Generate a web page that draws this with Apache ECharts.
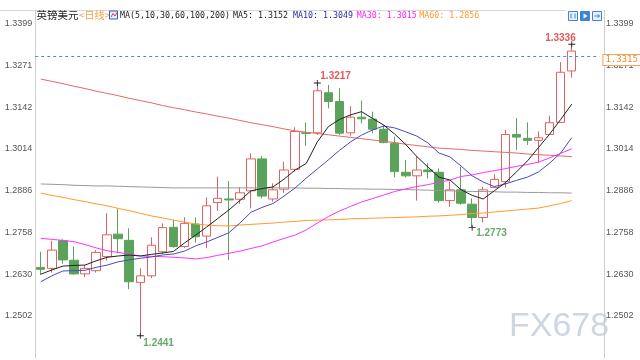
<!DOCTYPE html>
<html><head><meta charset="utf-8">
<script src="https://cdn.jsdelivr.net/npm/echarts@6/dist/echarts.min.js"></script>
<style>html,body{margin:0;padding:0;background:#fff}#c{width:640px;height:360px}</style>
</head><body><div id="c"></div>
<script>
const categories = ['1','2','3','4','5','6','7','8','9','10','11','12','13','14','15','16','17','18','19','20','21','22','23','24','25','26','27','28','29','30','31','32','33','34','35','36','37','38','39','40','41','42','43','44','45','46','47','48','49'];
const padCategories = ['', ''];
const opens = [1.2651,1.2648,1.2733,1.2673,1.2631,1.2641,1.2684,1.2753,1.2734,1.2605,1.2625,1.2699,1.2774,1.2715,1.2784,1.2747,1.2850,1.2861,1.2860,1.2886,1.2984,1.2861,1.2891,1.2952,1.3064,1.3064,1.3187,1.3160,1.3064,1.3112,1.3106,1.3075,1.3032,1.2943,1.2932,1.2950,1.2943,1.2856,1.2889,1.2845,1.2804,1.2896,1.2914,1.3059,1.3047,1.3041,1.3059,1.3096,1.3254];
const closes = [1.2645,1.2704,1.2674,1.2631,1.2648,1.2697,1.2751,1.2739,1.2607,1.2625,1.2719,1.2773,1.2715,1.2786,1.2745,1.2840,1.2863,1.2858,1.2880,1.2984,1.2870,1.2889,1.2950,1.3068,1.3062,1.3193,1.3160,1.3063,1.3112,1.3107,1.3075,1.3034,1.2945,1.2932,1.2950,1.2945,1.2856,1.2889,1.2848,1.2804,1.2889,1.2921,1.3059,1.3051,1.3041,1.3049,1.3095,1.3250,1.3315];
const lows = [1.2628,1.2635,1.2662,1.2629,1.2621,1.2635,1.2672,1.2694,1.2584,1.2441,1.2618,1.2692,1.2711,1.2711,1.2727,1.2710,1.2825,1.2674,1.2846,1.2832,1.2863,1.2853,1.2880,1.2945,1.3024,1.3057,1.3139,1.3057,1.3055,1.3093,1.3063,1.3032,1.2927,1.2927,1.2856,1.2924,1.2850,1.2837,1.2843,1.2773,1.2789,1.2894,1.2896,1.3011,1.3027,1.2971,1.3057,1.3094,1.3233];
const highs = [1.2699,1.2733,1.2737,1.2715,1.2658,1.2704,1.2817,1.2830,1.2771,1.2648,1.2743,1.2786,1.2797,1.2805,1.2804,1.2866,1.2929,1.2916,1.2897,1.3001,1.2993,1.2909,1.2975,1.3081,1.3096,1.3217,1.3211,1.3201,1.3146,1.3163,1.3129,1.3088,1.3052,1.2981,1.2993,1.2971,1.2955,1.2914,1.2960,1.2863,1.2899,1.2937,1.3073,1.3109,1.3096,1.3068,1.3117,1.3281,1.3336];
const ma5 = [1.2630,1.2643,1.2655,1.2657,1.2658,1.2671,1.2682,1.2686,1.2689,1.2686,1.2691,1.2695,1.2700,1.2726,1.2750,1.2775,1.2801,1.2827,1.2856,1.2886,1.2893,1.2898,1.2922,1.2950,1.2970,1.3036,1.3083,1.3105,1.3119,1.3129,1.3108,1.3088,1.3060,1.3028,1.2991,1.2959,1.2928,1.2919,1.2889,1.2872,1.2861,1.2886,1.2911,1.2944,1.2978,1.3019,1.3060,1.3105,1.3152];
const ma10 = [1.2607,1.2625,1.2640,1.2641,1.2642,1.2651,1.2658,1.2668,1.2674,1.2679,1.2683,1.2689,1.2692,1.2701,1.2717,1.2729,1.2743,1.2757,1.2787,1.2820,1.2835,1.2847,1.2870,1.2895,1.2925,1.2953,1.2981,1.3010,1.3036,1.3057,1.3073,1.3085,1.3079,1.3067,1.3054,1.3033,1.3002,1.2990,1.2962,1.2932,1.2913,1.2899,1.2907,1.2918,1.2928,1.2944,1.2971,1.3002,1.3049];
const ma30 = [1.2740,1.2737,1.2734,1.2730,1.2721,1.2711,1.2702,1.2697,1.2691,1.2686,1.2685,1.2684,1.2682,1.2680,1.2677,1.2681,1.2688,1.2694,1.2701,1.2709,1.2717,1.2729,1.2740,1.2750,1.2766,1.2787,1.2807,1.2824,1.2838,1.2852,1.2862,1.2873,1.2884,1.2892,1.2899,1.2905,1.2912,1.2919,1.2930,1.2935,1.2942,1.2948,1.2954,1.2961,1.2967,1.2974,1.2987,1.3001,1.3015];
const ma60 = [1.2879,1.2872,1.2866,1.2859,1.2853,1.2846,1.2840,1.2832,1.2825,1.2817,1.2809,1.2803,1.2796,1.2790,1.2784,1.2781,1.2779,1.2778,1.2781,1.2783,1.2785,1.2787,1.2790,1.2792,1.2795,1.2796,1.2797,1.2798,1.2800,1.2801,1.2802,1.2803,1.2804,1.2805,1.2806,1.2808,1.2809,1.2811,1.2813,1.2816,1.2818,1.2821,1.2824,1.2827,1.2830,1.2833,1.2840,1.2847,1.2856];
const ma100 = [1.2907,1.2906,1.2905,1.2903,1.2902,1.2901,1.2901,1.2900,1.2899,1.2898,1.2897,1.2896,1.2895,1.2895,1.2895,1.2895,1.2895,1.2895,1.2895,1.2895,1.2895,1.2895,1.2895,1.2895,1.2894,1.2894,1.2893,1.2893,1.2892,1.2892,1.2891,1.2891,1.2890,1.2890,1.2889,1.2888,1.2887,1.2886,1.2885,1.2884,1.2884,1.2883,1.2882,1.2882,1.2881,1.2881,1.2880,1.2880,1.2879];
const ma200 = [1.3229,1.3222,1.3215,1.3207,1.3200,1.3192,1.3185,1.3178,1.3170,1.3163,1.3156,1.3148,1.3141,1.3135,1.3128,1.3122,1.3115,1.3109,1.3102,1.3095,1.3089,1.3083,1.3076,1.3070,1.3066,1.3062,1.3058,1.3054,1.3050,1.3046,1.3042,1.3038,1.3034,1.3029,1.3025,1.3021,1.3017,1.3015,1.3013,1.3010,1.3008,1.3006,1.3004,1.3002,1.2999,1.2997,1.2995,1.2993,1.2991];
const tickLabels = ['1.2502','1.2630','1.2758','1.2886','1.3014','1.3142','1.3271','1.3399'];
const axisMin = 1.237379, axisMax = 1.3441, axisStep = 0.012811;
const legendTexts = ['英镑美元', '<日线>', 'MA(5,10,30,60,100,200)', 'MA5: 1.3152', 'MA10: 1.3049', 'MA30: 1.3015', 'MA60: 1.2856'];
const markHigh1 = 25, markHigh2 = 48, markLow1 = 9, markLow2 = 39;

const candleData = opens.map((o, i) => [o, closes[i], lows[i], highs[i]]);
const lastClose = closes[closes.length - 1];

function fmtTick(v) {
  for (const t of tickLabels) { if (Math.abs(parseFloat(t) - v) < axisStep / 3) return t; }
  return '';
}
const yCommon = {
  type: 'value', min: axisMin, max: axisMax, interval: axisStep,
  splitLine: { show: false }, axisTick: { show: false },
  axisLine: { show: true, lineStyle: { color: '#c8c8c8', type: 'dotted', width: 1 } }
};
const mono = '"DejaVu Sans Mono", "Liberation Mono", monospace';
const plusPath = 'path://M0,3H8V4H0Z M3.5,0H4.5V7H3.5Z';
function mp(idx, val, color, align, off) {
  return { coord: [idx, val], value: val.toFixed(4), symbol: plusPath, symbolSize: [7, 6],
    itemStyle: { color: '#222' },
    label: { show: true, position: 'inside', align: align, verticalAlign: 'middle', offset: off,
      color: color, fontSize: 10, fontWeight: 'bold', fontFamily: 'Liberation Sans, Arial, sans-serif', formatter: val.toFixed(4) } };
}
function maLine(name, data, color) {
  return { name, type: 'line', data, showSymbol: false, symbol: 'none', silent: true,
    lineStyle: { color, width: 1 }, itemStyle: { color }, z: 3, animation: false };
}
const chart = echarts.init(document.getElementById('c'));
chart.setOption({
  animation: false,
  backgroundColor: '#fff',
  grid: { left: 35.2, right: 40.6, top: 10, bottom: 2.3 },
  xAxis: { type: 'category', data: categories.concat(padCategories), boundaryGap: true, show: false },
  yAxis: [
    Object.assign({}, yCommon, { position: 'left', axisLabel: { showMinLabel: false, showMaxLabel: false, margin: 3, fontSize: 9, color: '#555', fontFamily: 'Liberation Sans, Arial', formatter: fmtTick } }),
    Object.assign({}, yCommon, { position: 'right', offset: 4.6, axisLabel: { showMinLabel: false, showMaxLabel: false, margin: 2, fontSize: 9, color: '#555', fontFamily: 'Liberation Sans, Arial', formatter: fmtTick } })
  ],
  series: [
    { type: 'candlestick', data: candleData, barWidth: 9, z: 2,
      itemStyle: { color: '#ffffff', color0: '#5ba25b', borderColor: '#e06262', borderColor0: '#5ba25b', borderWidth: 1 },
      markPoint: { animation: false, data: [
        mp(markHigh1, highs[markHigh1], '#e05a5a', 'left', [3, -7]),
        mp(markHigh2, highs[markHigh2], '#e05a5a', 'right', [4, -6]),
        mp(markLow1, lows[markLow1], '#6aaa6a', 'left', [3, 7]),
        mp(markLow2, lows[markLow2], '#6aaa6a', 'left', [4, 6])
      ] },
      markLine: { silent: true, symbol: 'none', animation: false,
        lineStyle: { color: '#3c8fe6', type: [3, 3], width: 1 },
        label: { show: true, position: 'end', distance: 4, offset: [0, 4], formatter: lastClose.toFixed(4), color: '#f08a2a', fontSize: 9, fontFamily: mono,
          backgroundColor: '#fff', borderColor: '#f2a453', borderWidth: 1, padding: [1, 2, 0, 2] },
        data: [{ yAxis: lastClose }] } },
    maLine('MA200', ma200, '#e46a6a'),
    maLine('MA100', ma100, '#9a9a9a'),
    maLine('MA60', ma60, '#ff9a2e'),
    maLine('MA30', ma30, '#ff33ff'),
    maLine('MA10', ma10, '#4a4ac0'),
    maLine('MA5', ma5, '#222222')
  ],
  graphic: [
    { type: 'line', shape: { x1: 0, y1: 10.5, x2: 566, y2: 10.5 }, style: { stroke: '#d8d8d8', lineWidth: 1 }, silent: true },
    { type: 'text', x: 36.5, y: 15.5, style: { text: legendTexts[0], font: '10.5px "Noto Sans CJK SC"', fill: '#222', textVerticalAlign: 'middle' } },
    { type: 'text', x: 79, y: 15.5, style: { text: legendTexts[1], font: '10px "Noto Sans CJK SC"', fill: '#f0a040', textVerticalAlign: 'middle' } },
    { type: 'rect', shape: { x: 109.5, y: 11, width: 8, height: 8 }, style: { fill: '#e4ecff', stroke: '#3a5cc8', lineWidth: 1 } },
    { type: 'polyline', shape: { points: [[111, 17], [113, 13.5], [115, 16], [117, 12.5]] }, style: { stroke: '#e04040', fill: null, lineWidth: 1 } },
    { type: 'text', x: 120, y: 15.5, style: { text: legendTexts[2], font: '8.3px ' + mono, fill: '#222', textVerticalAlign: 'middle' } },
    { type: 'text', x: 233, y: 15.5, style: { text: legendTexts[3], font: '8.3px ' + mono, fill: '#222', textVerticalAlign: 'middle' } },
    { type: 'text', x: 293, y: 15.5, style: { text: legendTexts[4], font: '8.3px ' + mono, fill: '#2b2ba0', textVerticalAlign: 'middle' } },
    { type: 'text', x: 356.7, y: 15.5, style: { text: legendTexts[5], font: '8.3px ' + mono, fill: '#ff22ff', textVerticalAlign: 'middle' } },
    { type: 'text', x: 419.3, y: 15.5, style: { text: legendTexts[6], font: '8.3px ' + mono, fill: '#ff9a2e', textVerticalAlign: 'middle' } },
    { type: 'rect', shape: { x: 568.5, y: 11.5, width: 9, height: 9 }, style: { fill: '#e8f1fc', stroke: '#3a86d8', lineWidth: 1 } },
    { type: 'rect', shape: { x: 580.5, y: 11.5, width: 9, height: 9 }, style: { fill: '#3a86d8', stroke: '#3a86d8', lineWidth: 1 } },
    { type: 'polygon', shape: { points: [[583.5, 13.5], [587.5, 16], [583.5, 18.5]] }, style: { fill: '#fff' } },
    { type: 'rect', shape: { x: 592.5, y: 11.5, width: 9, height: 9 }, style: { fill: '#e8f1fc', stroke: '#3a86d8', lineWidth: 1 } },
    { type: 'polyline', shape: { points: [[571, 13.5], [571, 18.5]] }, style: { stroke: '#3a86d8', lineWidth: 1 } },
    { type: 'polyline', shape: { points: [[575, 13.5], [575, 18.5]] }, style: { stroke: '#3a86d8', lineWidth: 1 } },
    { type: 'polyline', shape: { points: [[594.5, 16], [599.5, 16]] }, style: { stroke: '#3a86d8', lineWidth: 1 } },
    { type: 'polyline', shape: { points: [[597.5, 14], [599.5, 16], [597.5, 18]] }, style: { stroke: '#3a86d8', fill: null, lineWidth: 1 } },
    { type: 'text', x: 509, y: 327, z: 100, style: { text: 'FX678', font: '34px "Liberation Sans", Arial, sans-serif', fill: 'rgba(192,204,217,0.8)', textVerticalAlign: 'middle' } }
  ]
});
</script></body></html>
